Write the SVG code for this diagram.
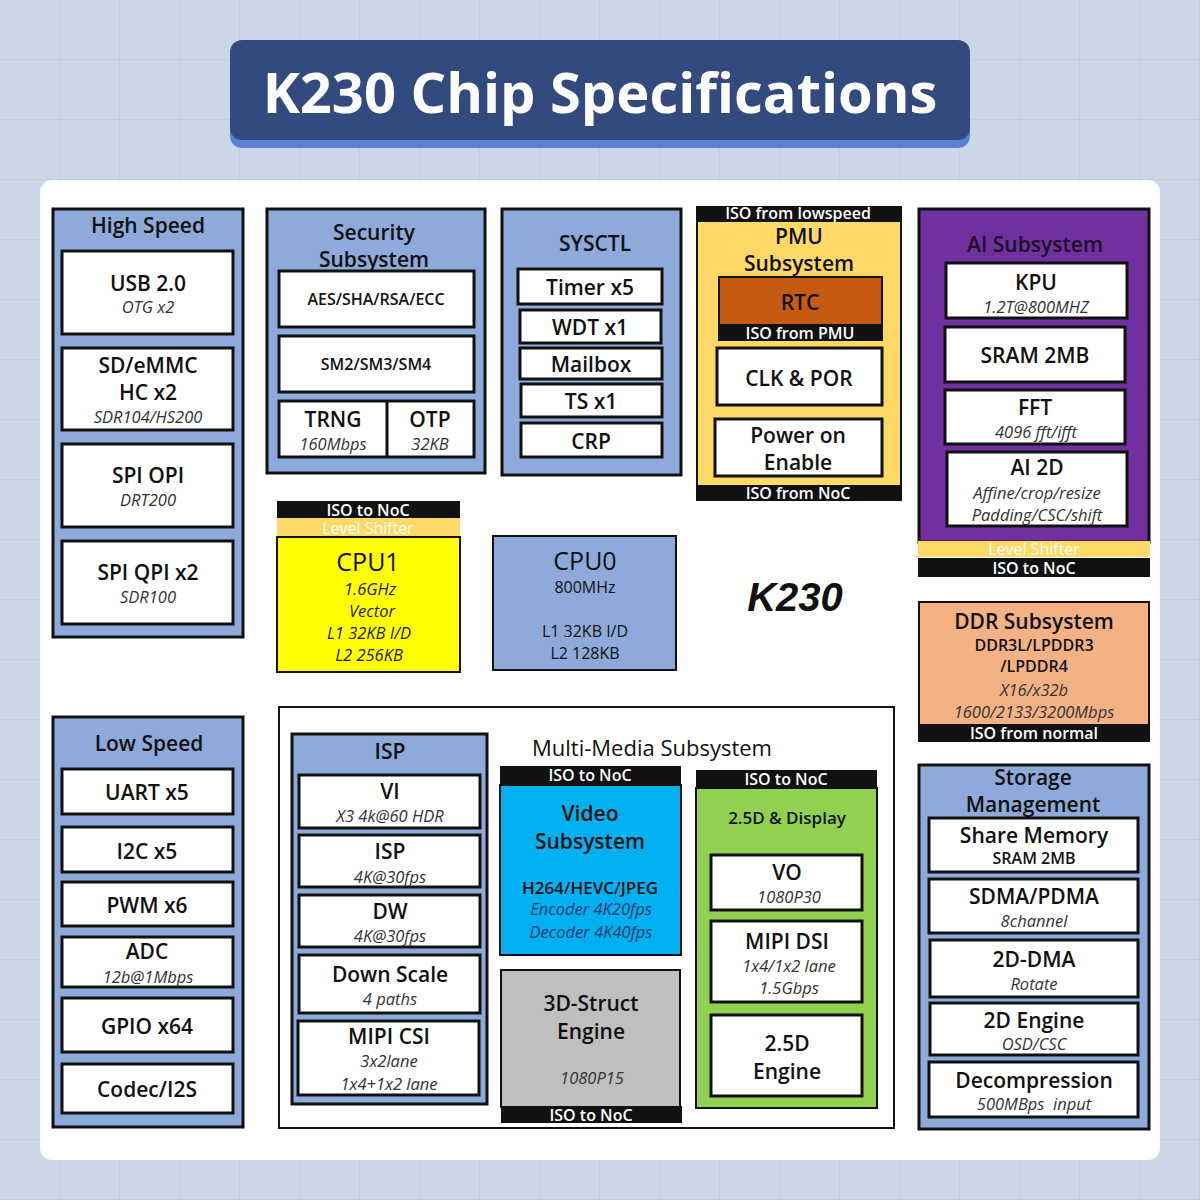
<svg xmlns="http://www.w3.org/2000/svg" width="1200" height="1200" viewBox="0 0 1200 1200">
<defs>
<pattern id="grid" width="60" height="60" patternUnits="userSpaceOnUse">
<rect width="60" height="60" fill="#cbd7e6"/>
<path d="M60 0V60H0" fill="none" stroke="#bccadb" stroke-width="1.5"/>
</pattern>
<style>
text{font-family:"Open Sans","Noto Sans","Liberation Sans",sans-serif;text-anchor:middle;dominant-baseline:central;fill:#111}
.t{font-size:21px;font-weight:600}
.h{font-size:21px;font-weight:600}
.m{font-size:17px;font-weight:600}
.s{font-size:16.5px;font-style:italic;font-weight:400;fill:#333}
.bt{font-size:16px;font-weight:600;fill:#fff}
.lb{fill:#8eaadb;stroke:#111;stroke-width:3}
.wb{fill:#fff;stroke:#111;stroke-width:3}
.bar{fill:#111}
.ls{fill:#ffd966}
</style>
</defs>
<rect width="1200" height="1200" fill="url(#grid)"/>
<g id="title">
<rect x="230" y="48" width="740" height="100" rx="12" fill="#5b7fd6"/>
<rect x="230" y="40" width="740" height="100" rx="12" fill="#334a7e"/>
<text x="600" y="91" style="font-size:56px;font-weight:700;fill:#fff">K230 Chip Specifications</text>
</g>
<rect x="40" y="180" width="1120" height="980" rx="12" fill="#fff"/>

<g id="high-speed">
<rect class="lb" x="53" y="209" width="190" height="428"/>
<text class="h" x="148" y="225">High Speed</text>
<rect class="wb" x="62" y="251" width="171" height="83"/>
<text class="t" x="148" y="283">USB 2.0</text><text class="s" x="148" y="306">OTG x2</text>
<rect class="wb" x="62" y="348" width="171" height="82"/>
<text class="t" x="148" y="365">SD/eMMC</text><text class="t" x="148" y="392">HC x2</text><text class="s" x="148" y="416">SDR104/HS200</text>
<rect class="wb" x="62" y="444" width="171" height="83"/>
<text class="t" x="148" y="475">SPI OPI</text><text class="s" x="148" y="499">DRT200</text>
<rect class="wb" x="62" y="541" width="171" height="83"/>
<text class="t" x="148" y="572">SPI QPI x2</text><text class="s" x="148" y="596">SDR100</text>
</g>

<g id="security">
<rect class="lb" x="267" y="209" width="218" height="264"/>
<text class="h" x="374" y="232">Security</text><text class="h" x="374" y="259">Subsystem</text>
<rect class="wb" x="279" y="271" width="195" height="56"/>
<text class="m" x="376" y="299" style="font-size:16px">AES/SHA/RSA/ECC</text>
<rect class="wb" x="279" y="336" width="195" height="56"/>
<text class="m" x="376" y="364" style="font-size:16px">SM2/SM3/SM4</text>
<rect class="wb" x="279" y="401" width="195" height="56"/>
<line x1="387" y1="401" x2="387" y2="457" stroke="#111" stroke-width="3"/>
<text class="t" x="333" y="419">TRNG</text><text class="s" x="333" y="443">160Mbps</text>
<text class="t" x="430" y="419">OTP</text><text class="s" x="430" y="443">32KB</text>
</g>

<g id="sysctl">
<rect class="lb" x="502" y="209" width="179" height="266"/>
<text class="h" x="595" y="243">SYSCTL</text>
<rect class="wb" x="518" y="269" width="144" height="35"/><text class="t" x="590" y="287">Timer x5</text>
<rect class="wb" x="520" y="310" width="141" height="33"/><text class="t" x="590" y="327">WDT x1</text>
<rect class="wb" x="520" y="348" width="142" height="31"/><text class="t" x="591" y="364">Mailbox</text>
<rect class="wb" x="521" y="384" width="141" height="33"/><text class="t" x="591" y="401">TS x1</text>
<rect class="wb" x="521" y="423" width="141" height="34"/><text class="t" x="591" y="441">CRP</text>
</g>

<g id="pmu">
<rect x="697" y="207" width="204" height="293" fill="#ffd966" stroke="#111" stroke-width="2"/>
<rect class="bar" x="697" y="207" width="204" height="15"/>
<text class="bt" x="798" y="213">ISO from lowspeed</text>
<text class="t" x="799" y="236">PMU</text><text class="t" x="799" y="263">Subsystem</text>
<rect x="719" y="277" width="163" height="48" fill="#c55a11" stroke="#111" stroke-width="2"/>
<text class="t" x="800" y="302">RTC</text>
<rect class="bar" x="718" y="325" width="165" height="16"/>
<text class="bt" x="800" y="333">ISO from PMU</text>
<rect class="wb" x="717" y="348" width="165" height="57"/><text class="t" x="799" y="378">CLK &amp; POR</text>
<rect class="wb" x="715" y="419" width="167" height="57"/>
<text class="t" x="798" y="435">Power on</text><text class="t" x="798" y="462">Enable</text>
<rect class="bar" x="697" y="485" width="204" height="15"/>
<text class="bt" x="798" y="493">ISO from NoC</text>
</g>

<g id="ai">
<rect x="919" y="209" width="230" height="333" fill="#7030a0" stroke="#111" stroke-width="3"/>
<text class="h" x="1035" y="244" style="fill:#1a1028">AI Subsystem</text>
<rect class="wb" x="946" y="263" width="181" height="55"/>
<text class="t" x="1036" y="282">KPU</text><text class="s" x="1036" y="306">1.2T@800MHZ</text>
<rect class="wb" x="945" y="327" width="180" height="55"/><text class="t" x="1035" y="355">SRAM 2MB</text>
<rect class="wb" x="945" y="390" width="180" height="54"/>
<text class="t" x="1035" y="407">FFT</text><text class="s" x="1036" y="431">4096 fft/ifft</text>
<rect class="wb" x="947" y="452" width="180" height="74"/>
<text class="t" x="1037" y="467">AI 2D</text><text class="s" x="1037" y="492">Affine/crop/resize</text><text class="s" x="1037" y="514">Padding/CSC/shift</text>
<rect class="ls" x="918" y="541" width="232" height="16"/>
<text class="bt" x="1034" y="549" style="font-weight:500">Level Shifter</text>
<rect class="bar" x="918" y="558" width="232" height="19"/>
<text class="bt" x="1034" y="568">ISO to NoC</text>
</g>

<g id="cpu1">
<rect class="bar" x="277" y="501" width="183" height="17"/>
<text class="bt" x="368" y="510">ISO to NoC</text>
<rect class="ls" x="277" y="518" width="183" height="19"/>
<text class="bt" x="368" y="528" style="font-weight:500">Level Shifter</text>
<rect x="277" y="537" width="183" height="135" fill="#ffff00" stroke="#111" stroke-width="2"/>
<text x="368" y="561" style="font-size:25px;font-weight:500">CPU1</text>
<text class="s" x="370" y="588" style="fill:#222">1.6GHz</text>
<text class="s" x="372" y="610" style="fill:#222">Vector</text>
<text class="s" x="369" y="632" style="fill:#222">L1 32KB I/D</text>
<text class="s" x="369" y="654" style="fill:#222">L2 256KB</text>
</g>

<g id="cpu0">
<rect class="lb" x="493" y="536" width="183" height="134" style="stroke-width:2"/>
<text x="585" y="560" style="font-size:25px;font-weight:500">CPU0</text>
<text x="585" y="587" style="font-size:16px;font-weight:500">800MHz</text>
<text x="585" y="631" style="font-size:16px;font-weight:500">L1 32KB I/D</text>
<text x="585" y="653" style="font-size:16px;font-weight:500">L2 128KB</text>
</g>

<g id="k230-label">
<text x="795" y="597" style="font-size:40px;font-weight:700;font-style:italic;font-family:'Liberation Sans',sans-serif">K230</text>
</g>

<g id="ddr">
<rect x="919" y="602" width="230" height="139" fill="#f4b183" stroke="#111" stroke-width="2"/>
<text class="t" x="1034" y="621">DDR Subsystem</text>
<text class="m" x="1034" y="645" style="font-size:16px">DDR3L/LPDDR3</text>
<text class="m" x="1034" y="666" style="font-size:16px">/LPDDR4</text>
<text class="s" x="1034" y="689">X16/x32b</text>
<text class="s" x="1034" y="711">1600/2133/3200Mbps</text>
<rect class="bar" x="918" y="724" width="231" height="17"/>
<text class="bt" x="1034" y="733">ISO from normal</text>
</g>

<g id="low-speed">
<rect class="lb" x="53" y="717" width="190" height="410"/>
<text class="h" x="149" y="743">Low Speed</text>
<rect class="wb" x="62" y="769" width="171" height="45"/><text class="t" x="147" y="792">UART x5</text>
<rect class="wb" x="62" y="827" width="171" height="45"/><text class="t" x="147" y="851">I2C x5</text>
<rect class="wb" x="62" y="882" width="171" height="44"/><text class="t" x="147" y="905">PWM x6</text>
<rect class="wb" x="62" y="937" width="171" height="50"/>
<text class="t" x="147" y="951">ADC</text><text class="s" x="148" y="976">12b@1Mbps</text>
<rect class="wb" x="62" y="998" width="171" height="54"/><text class="t" x="147" y="1026">GPIO x64</text>
<rect class="wb" x="62" y="1064" width="171" height="49"/><text class="t" x="147" y="1089">Codec/I2S</text>
</g>

<g id="multimedia">
<rect x="279" y="707" width="615" height="421" fill="#fff" stroke="#111" stroke-width="2"/>
<text x="652" y="747" style="font-size:22px;font-weight:500">Multi-Media Subsystem</text>
</g>

<g id="isp">
<rect class="lb" x="292" y="734" width="195" height="370"/>
<text class="h" x="390" y="751">ISP</text>
<rect class="wb" x="299" y="775" width="181" height="53"/>
<text class="t" x="390" y="791">VI</text><text class="s" x="390" y="815">X3 4k@60 HDR</text>
<rect class="wb" x="299" y="835" width="181" height="52"/>
<text class="t" x="390" y="851">ISP</text><text class="s" x="390" y="876">4K@30fps</text>
<rect class="wb" x="299" y="895" width="181" height="52"/>
<text class="t" x="390" y="911">DW</text><text class="s" x="390" y="935">4K@30fps</text>
<rect class="wb" x="299" y="955" width="181" height="58"/>
<text class="t" x="390" y="974">Down Scale</text><text class="s" x="390" y="998">4 paths</text>
<rect class="wb" x="298" y="1021" width="181" height="74"/>
<text class="t" x="389" y="1036">MIPI CSI</text><text class="s" x="389" y="1060">3x2lane</text><text class="s" x="389" y="1083">1x4+1x2 lane</text>
</g>

<g id="video">
<rect class="bar" x="500" y="766" width="181" height="19"/>
<text class="bt" x="590" y="775">ISO to NoC</text>
<rect x="500" y="785" width="181" height="170" fill="#00b0f0" stroke="#111" stroke-width="2"/>
<text class="t" x="590" y="813">Video</text><text class="t" x="590" y="841">Subsystem</text>
<text class="m" x="590" y="887">H264/HEVC/JPEG</text>
<text class="s" x="591" y="908" style="fill:#1f3a6e">Encoder 4K20fps</text>
<text class="s" x="591" y="931" style="fill:#1f3a6e">Decoder 4K40fps</text>
</g>

<g id="struct3d">
<rect x="501" y="970" width="179" height="137" fill="#bfbfbf" stroke="#111" stroke-width="2"/>
<text class="t" x="591" y="1003">3D-Struct</text><text class="t" x="591" y="1031">Engine</text>
<text class="s" x="592" y="1077">1080P15</text>
<rect class="bar" x="501" y="1106" width="181" height="17"/>
<text class="bt" x="591" y="1115">ISO to NoC</text>
</g>

<g id="display">
<rect class="bar" x="696" y="770" width="181" height="18"/>
<text class="bt" x="786" y="779">ISO to NoC</text>
<rect x="696" y="788" width="181" height="320" fill="#92d050" stroke="#111" stroke-width="2"/>
<text class="m" x="787" y="817">2.5D &amp; Display</text>
<rect class="wb" x="711" y="855" width="151" height="55"/>
<text class="t" x="787" y="872">VO</text><text class="s" x="789" y="896">1080P30</text>
<rect class="wb" x="711" y="921" width="151" height="81"/>
<text class="t" x="787" y="941">MIPI DSI</text><text class="s" x="789" y="965">1x4/1x2 lane</text><text class="s" x="789" y="987">1.5Gbps</text>
<rect class="wb" x="711" y="1015" width="151" height="81"/>
<text class="t" x="787" y="1043">2.5D</text><text class="t" x="787" y="1071">Engine</text>
</g>

<g id="storage">
<rect class="lb" x="919" y="765" width="230" height="364"/>
<text class="t" x="1033" y="777">Storage</text><text class="t" x="1033" y="804">Management</text>
<rect class="wb" x="929" y="818" width="209" height="54"/>
<text class="t" x="1034" y="835">Share Memory</text><text class="m" x="1034" y="858" style="font-size:16px">SRAM 2MB</text>
<rect class="wb" x="929" y="879" width="209" height="54"/>
<text class="t" x="1034" y="896">SDMA/PDMA</text><text class="s" x="1034" y="920">8channel</text>
<rect class="wb" x="930" y="940" width="208" height="57"/>
<text class="t" x="1034" y="959">2D-DMA</text><text class="s" x="1034" y="983">Rotate</text>
<rect class="wb" x="930" y="1003" width="208" height="52"/>
<text class="t" x="1034" y="1020">2D Engine</text><text class="s" x="1034" y="1043">OSD/CSC</text>
<rect class="wb" x="929" y="1062" width="209" height="55"/>
<text class="t" x="1034" y="1080">Decompression</text><text class="s" x="1034" y="1103" style="white-space:pre">500MBps  input</text>
</g>
<g id="connectors"/>
</svg>
